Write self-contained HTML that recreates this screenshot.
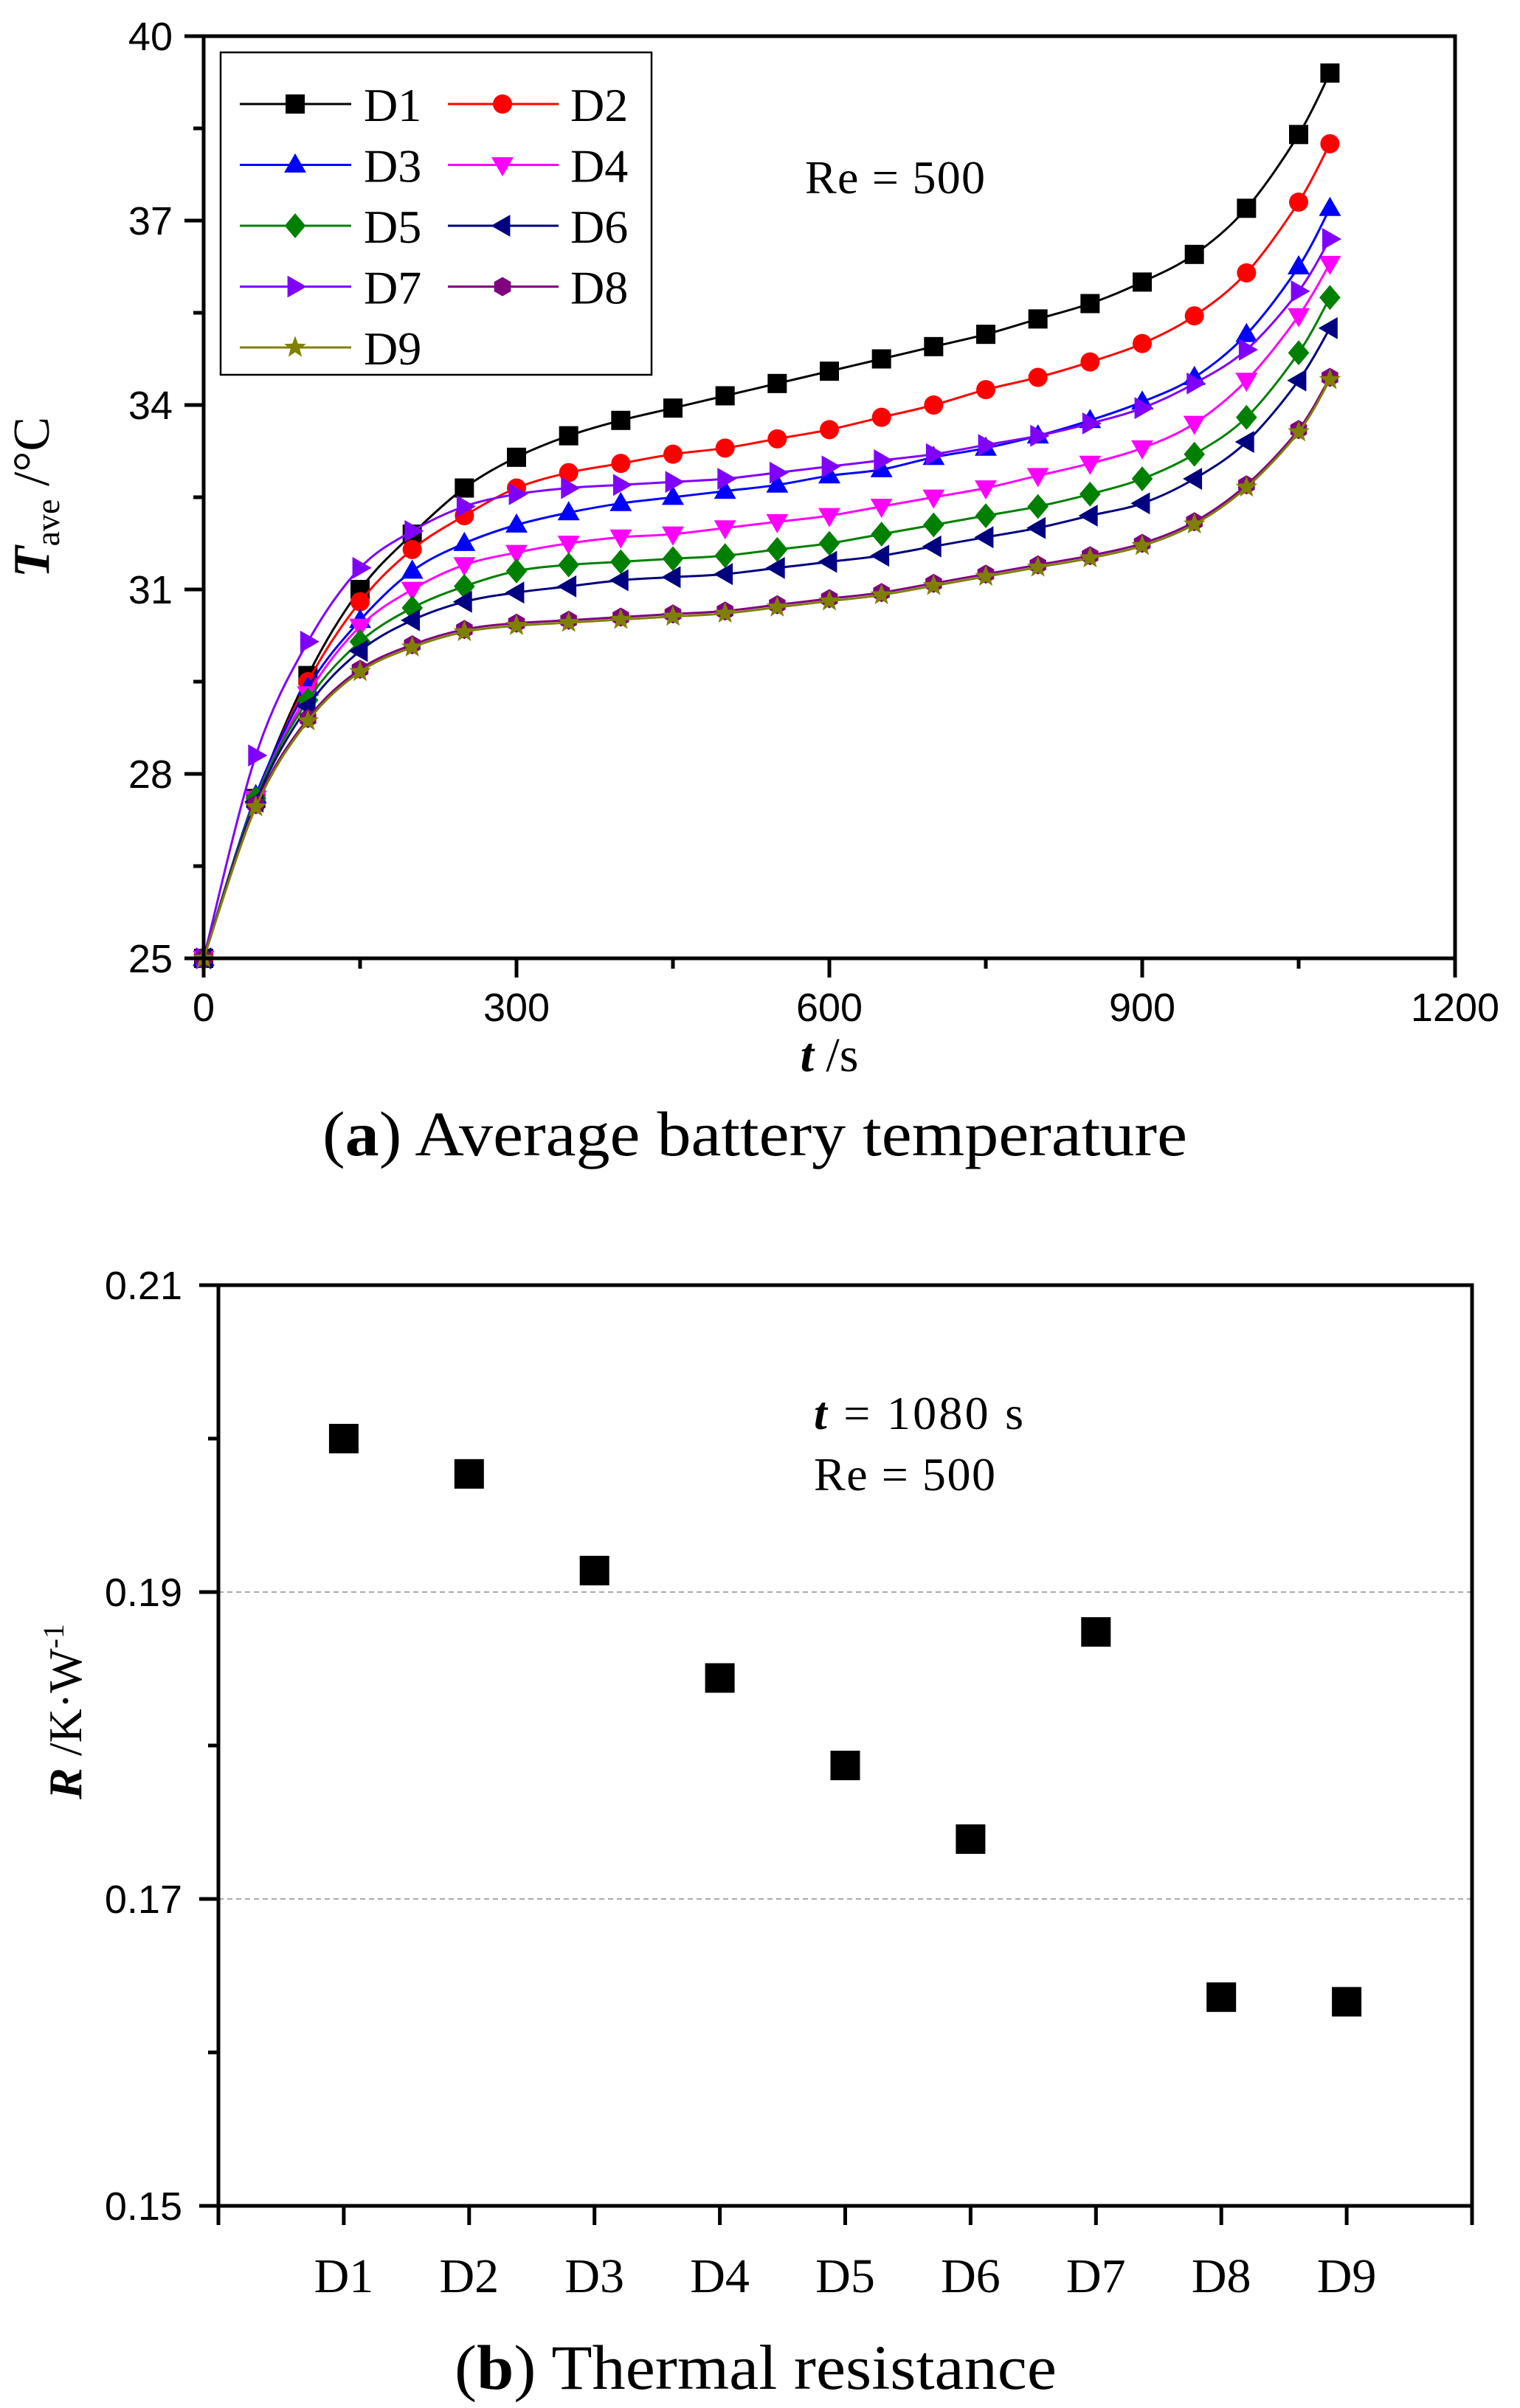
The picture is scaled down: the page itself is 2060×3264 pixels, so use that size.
<!DOCTYPE html>
<html><head><meta charset="utf-8"><style>
html,body{margin:0;padding:0;background:#fff}
svg{display:block}
.sans{font-family:"Liberation Sans",Arial,sans-serif}
.serif{font-family:"Liberation Serif","Times New Roman",serif}
</style></head><body>
<svg id="s" width="2060" height="3264" viewBox="0 0 2060 3264" xmlns="http://www.w3.org/2000/svg">
<rect width="2060" height="3264" fill="#fff"/>
<g id="a"></g>
<text class="serif" x="1124" y="1452" font-size="66" text-anchor="middle"><tspan font-weight="bold" font-style="italic">t</tspan> /s</text>
<text class="serif" transform="translate(66,674) rotate(-90)" font-size="70" text-anchor="middle"><tspan font-weight="bold" font-style="italic">T</tspan><tspan font-size="46" dy="14">ave</tspan><tspan dy="-14"> /°C</tspan></text>
<text class="serif" x="1091" y="262" font-size="64" textLength="244" lengthAdjust="spacing">Re = 500</text>
<text class="serif" x="437" y="1566" font-size="86" textLength="1172" lengthAdjust="spacingAndGlyphs">(<tspan font-weight="bold">a</tspan>) Average battery temperature</text>
<g id="b"></g>
<text class="serif" x="1103" y="1937" font-size="64" textLength="284" lengthAdjust="spacing"><tspan font-weight="bold" font-style="italic">t</tspan>  =  1080 s</text>
<text class="serif" x="1103" y="2020" font-size="64" textLength="246" lengthAdjust="spacing">Re = 500</text>
<text class="serif" transform="translate(110,2320) rotate(-90)" font-size="64" text-anchor="middle"><tspan font-weight="bold" font-style="italic">R</tspan> /K·W<tspan font-size="40" dy="-24">-1</tspan></text>
<text class="serif" x="616" y="3238" font-size="86" textLength="816" lengthAdjust="spacingAndGlyphs">(<tspan font-weight="bold">b</tspan>) Thermal resistance</text>
</svg>
<script>
var NS="http://www.w3.org/2000/svg";
function el(p,t,a,txt){var e=document.createElementNS(NS,t);for(var k in a)e.setAttribute(k,a[k]);if(txt!=null)e.textContent=txt;p.appendChild(e);return e;}
var A=document.getElementById('a'),B=document.getElementById('b');
var L=276,R=1972,T=49,Bo=1299;
function X(t){return L+(t)*(R-L)/1200;}
function Y(v){return Bo-(v-25)*(Bo-T)/15;}
var ts=[0,50,100,150,200,250,300,350,400,450,500,550,600,650,700,750,800,850,900,950,1000,1050,1080];
var D=[
[25,27.6,29.6,31.0,31.9,32.65,33.15,33.5,33.75,33.95,34.15,34.35,34.55,34.75,34.95,35.15,35.4,35.65,36.0,36.45,37.2,38.4,39.4],
[25,27.6,29.5,30.8,31.65,32.2,32.65,32.9,33.05,33.2,33.3,33.45,33.6,33.8,34.0,34.25,34.45,34.7,35.0,35.45,36.15,37.3,38.25],
[25,27.65,29.4,30.5,31.3,31.75,32.05,32.25,32.4,32.5,32.6,32.7,32.85,32.95,33.15,33.3,33.5,33.75,34.05,34.45,35.15,36.25,37.2],
[25,27.6,29.3,30.4,31.0,31.4,31.6,31.75,31.85,31.9,32.0,32.1,32.2,32.35,32.5,32.65,32.85,33.05,33.3,33.7,34.4,35.45,36.3],
[25,27.6,29.2,30.15,30.7,31.05,31.3,31.4,31.45,31.5,31.55,31.65,31.75,31.9,32.05,32.2,32.35,32.55,32.8,33.2,33.8,34.85,35.75],
[25,27.55,29.1,30.0,30.5,30.8,30.95,31.05,31.15,31.2,31.25,31.35,31.45,31.55,31.7,31.85,32.0,32.2,32.4,32.8,33.4,34.4,35.25],
[25,28.3,30.15,31.35,31.95,32.35,32.55,32.65,32.7,32.75,32.8,32.9,33.0,33.1,33.2,33.35,33.5,33.7,33.95,34.35,34.9,35.85,36.7],
[25,27.5,28.9,29.7,30.1,30.35,30.45,30.5,30.55,30.6,30.65,30.75,30.85,30.95,31.1,31.25,31.4,31.55,31.75,32.1,32.7,33.6,34.45]
];
D.push(D[7].map(function(v,i){return i?v-0.04:v;}));
var C=['#000000','#ff0000','#0000ff','#ff00ff','#008000','#000080','#8000ff','#800080','#808000'];
function marker(p,k,x,y,c,s){
 s=s||13;var pts;
 switch(k){
 case 0:el(p,'rect',{x:x-s,y:y-s,width:2*s,height:2*s,fill:c});return;
 case 1:el(p,'circle',{cx:x,cy:y,r:s,fill:c});return;
 case 2:pts=[[x,y-s*1.2],[x+s*1.15,y+s*0.8],[x-s*1.15,y+s*0.8]];break;
 case 3:pts=[[x,y+s*1.2],[x+s*1.15,y-s*0.8],[x-s*1.15,y-s*0.8]];break;
 case 4:pts=[[x,y-s*1.3],[x+s*1.1,y],[x,y+s*1.3],[x-s*1.1,y]];break;
 case 5:pts=[[x-s*1.2,y],[x+s*0.8,y-s*1.15],[x+s*0.8,y+s*1.15]];break;
 case 6:pts=[[x+s*1.2,y],[x-s*0.8,y-s*1.15],[x-s*0.8,y+s*1.15]];break;
 case 7:pts=[];for(var i=0;i<6;i++){var a=Math.PI/6+i*Math.PI/3;pts.push([x+s*Math.cos(a),y+s*Math.sin(a)]);}break;
 case 8:pts=[];for(var i=0;i<10;i++){var a=-Math.PI/2+i*Math.PI/5,r=i%2?s*0.5:s*1.2;pts.push([x+r*Math.cos(a),y+r*Math.sin(a)]);}break;
 }
 el(p,'polygon',{points:pts.map(function(q){return q[0].toFixed(1)+','+q[1].toFixed(1)}).join(' '),fill:c});
}
function smooth(P){
 var d='M'+P[0][0]+','+P[0][1];
 for(var i=0;i<P.length-1;i++){
  var p0=P[i-1]||P[i],p1=P[i],p2=P[i+1],p3=P[i+2]||P[i+1];
  var c1=[p1[0]+(p2[0]-p0[0])/6,p1[1]+(p2[1]-p0[1])/6],c2=[p2[0]-(p3[0]-p1[0])/6,p2[1]-(p3[1]-p1[1])/6];
  d+=' C'+c1[0].toFixed(1)+','+c1[1].toFixed(1)+' '+c2[0].toFixed(1)+','+c2[1].toFixed(1)+' '+p2[0].toFixed(1)+','+p2[1].toFixed(1);
 }
 return d;
}
for(var s=0;s<9;s++){
 var P=ts.map(function(t,i){return [X(t),Y(D[s][i])];});
 el(A,'path',{d:smooth(P),fill:'none',stroke:C[s],'stroke-width':3});
 P.forEach(function(q){marker(A,s,q[0],q[1],C[s]);});
}
el(A,'rect',{x:L,y:T,width:R-L,height:Bo-T,fill:'none',stroke:'#000','stroke-width':5});
for(var t=0;t<=1200;t+=150){var maj=t%300==0;el(A,'line',{x1:X(t),y1:Bo,x2:X(t),y2:Bo+(maj?26:14),stroke:'#000','stroke-width':5});
 if(maj)el(A,'text',{x:X(t),y:1384,'font-size':54,'text-anchor':'middle','class':'sans'},String(t));}
for(var v=25;v<=40;v+=1.5){var maj=Math.abs((v-25)%3)<1e-6;el(A,'line',{x1:L,y1:Y(v),x2:L-(maj?26:14),y2:Y(v),stroke:'#000','stroke-width':5});
 if(maj)el(A,'text',{x:234,y:Y(v)+19,'font-size':54,'text-anchor':'end','class':'sans'},String(v));}
el(A,'rect',{x:299,y:71,width:584,height:437,fill:'#fff',stroke:'#000','stroke-width':2.5});
var names=['D1','D2','D3','D4','D5','D6','D7','D8','D9'];
for(var s=0;s<9;s++){
 var row=Math.floor(s/2),col=s%2,y=141+row*82.5;
 var x1=col?607:325,x2=col?757:476,mx=col?681:400,tx=col?773:493;
 el(A,'line',{x1:x1,y1:y,x2:x2,y2:y,stroke:C[s],'stroke-width':3});
 marker(A,s,mx,y,C[s]);
 el(A,'text',{x:tx,y:y+23,'font-size':64,'class':'serif'},names[s]);
}
var bl=296,br=1995,bt=1742,bb=2990;
function by(v){return bb-(v-0.15)*(bb-bt)/0.06;}
function bx(i){return bl+i*(br-bl)/10;}
[0.19,0.17].forEach(function(v){el(B,'line',{x1:bl,y1:by(v),x2:br,y2:by(v),stroke:'#aaa','stroke-width':2,'stroke-dasharray':'7,5'});});
el(B,'rect',{x:bl,y:bt,width:br-bl,height:bb-bt,fill:'none',stroke:'#000','stroke-width':5});
for(var i=0;i<=10;i++){el(B,'line',{x1:bx(i),y1:bb,x2:bx(i),y2:bb+26,stroke:'#000','stroke-width':5});
 if(i>=1&&i<=9)el(B,'text',{x:bx(i),y:3107,'font-size':66,'text-anchor':'middle','class':'serif'},'D'+i);}
[0.15,0.16,0.17,0.18,0.19,0.20,0.21].forEach(function(v,i){var maj=i%2==0;el(B,'line',{x1:bl,y1:by(v),x2:bl-(maj?26:14),y2:by(v),stroke:'#000','stroke-width':5});
 if(maj)el(B,'text',{x:247,y:by(v)+19,'font-size':54,'text-anchor':'end','class':'sans'},v.toFixed(2));});
var R2=[0.200,0.1977,0.1914,0.1844,0.1787,0.1739,0.1874,0.1636,0.1633];
R2.forEach(function(v,i){var x=bx(i+1),y=by(v);el(B,'rect',{x:x-20,y:y-20,width:40,height:40,fill:'#000'});});
</script>
</body></html>
